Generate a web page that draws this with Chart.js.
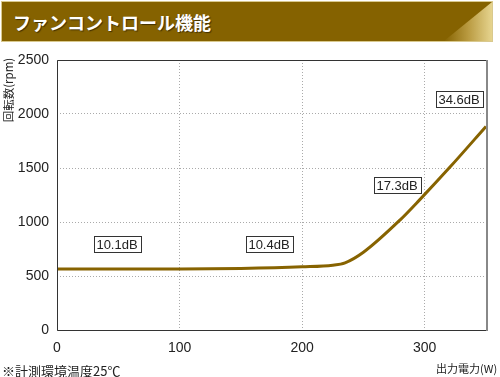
<!DOCTYPE html>
<html><head><meta charset="utf-8">
<script src="https://cdn.jsdelivr.net/npm/chart.js@4/dist/chart.umd.min.js"></script>
<style>
html,body{margin:0;padding:0;background:#fff;}
#wrap{position:relative;width:500px;height:377px;overflow:hidden;}
#hdr{position:absolute;left:1px;top:1px;width:492px;height:41px;background:#856200;border:1px solid #d9c98e;box-sizing:border-box;}
#hdr .tri{position:absolute;right:0;top:0;width:48px;height:100%;background:linear-gradient(to right,#856200 0%,#b99a40 50%,#e6d48f 100%);clip-path:polygon(100% 0,100% 100%,0 100%);}
#hdr .t{position:absolute;left:11px;top:7px;color:#fff;font:bold 18px "Noto Sans CJK JP",sans-serif;letter-spacing:0px;text-shadow:1px 1px 1px rgba(0,0,0,0.5);}
canvas{position:absolute;left:0;top:0;}
.ytitle{position:absolute;left:-27px;top:82px;width:70px;text-align:center;transform:rotate(-90deg);font:11.5px "Noto Sans CJK JP",sans-serif;color:#222;}
.xtitle{position:absolute;left:436px;top:360px;font:11px "Noto Sans CJK JP",sans-serif;color:#222;}
.note{position:absolute;left:2px;top:361px;font:13px "Noto Sans CJK JP",sans-serif;color:#222;}
</style></head>
<body><div id="wrap">
<canvas id="c" width="500" height="377"></canvas>
<div id="hdr"><div class="tri"></div><div class="t">ファンコントロール機能</div></div>
<div class="ytitle">回転数(rpm)</div>
<div class="xtitle">出力電力(W)</div>
<div class="note">※計測環境温度25℃</div>
</div>
<script>
const powerW = [0, 50, 100, 150, 200, 225, 235, 250, 280, 296, 321, 350];
const fanRpm = [565, 565, 565, 570, 585, 600, 622, 720, 1020, 1207, 1513, 1885];
const noiseLabels = ["10.1dB", "10.4dB", "17.3dB", "34.6dB"];
const noiseX = [49, 173, 277, 328];
const noiseY = [798, 800, 1346, 2135];
const xTicks = [0, 100, 200, 300];
const yTicks = [0, 500, 1000, 1500, 2000, 2500];

const FONT = "'Liberation Sans', Arial, sans-serif";

const framePlugin = {
  id: 'frame',
  afterDraw(chart) {
    const ctx = chart.ctx, a = chart.chartArea;
    ctx.save();
    ctx.strokeStyle = '#333'; ctx.lineWidth = 1;
    ctx.beginPath();
    ctx.moveTo(a.right, a.top + 0.5); ctx.lineTo(a.left + 0.5, a.top + 0.5);
    ctx.lineTo(a.left + 0.5, a.bottom + 0.5); ctx.lineTo(a.right, a.bottom + 0.5);
    ctx.stroke();
    ctx.strokeStyle = '#888'; ctx.lineWidth = 2;
    ctx.beginPath(); ctx.moveTo(a.right + 1, a.top); ctx.lineTo(a.right + 1, a.bottom + 1); ctx.stroke();
    const xs = chart.scales.x, ys = chart.scales.y;
    ctx.font = '13px ' + FONT;
    ctx.textAlign = 'center'; ctx.textBaseline = 'middle';
    noiseLabels.forEach((t, i) => {
      const px = Math.round(xs.getPixelForValue(noiseX[i]));
      const py = Math.round(ys.getPixelForValue(noiseY[i]));
      const w = Math.round(ctx.measureText(t).width) + 6, h = 16;
      ctx.fillStyle = '#fff';
      ctx.fillRect(px - w / 2, py - h / 2, w, h);
      ctx.strokeStyle = '#333'; ctx.lineWidth = 1;
      ctx.strokeRect(Math.round(px - w / 2) + 0.5, py - h / 2 + 0.5, w, h);
      ctx.fillStyle = '#222';
      ctx.fillText(t, px, py + 1);
    });
    ctx.restore();
  }
};

new Chart(document.getElementById('c'), {
  type: 'line',
  data: {
    datasets: [{
      data: powerW.map((x, i) => ({ x: x, y: fanRpm[i] })),
      borderColor: '#876300',
      borderWidth: 3,
      pointRadius: 0,
      tension: 0.4,
      cubicInterpolationMode: 'monotone',
      fill: false
    }]
  },
  options: {
    responsive: false,
    animation: false,
    devicePixelRatio: 1,
    layout: { padding: { left: 0, right: 14, top: 60, bottom: 0 } },
    plugins: { legend: { display: false }, tooltip: { enabled: false } },
    scales: {
      x: {
        type: 'linear', min: 0, max: 350,
        afterBuildTicks(s) { s.ticks = xTicks.map(v => ({ value: v })); },
        afterFit(s) { s.height = 47; },
        grid: { color: '#aaa', drawTicks: false, lineWidth: 1 },
        border: { display: false, dash: [1, 2] },
        ticks: { padding: 10, color: '#222', font: { family: FONT, size: 14 }, callback: v => String(v) }
      },
      y: {
        type: 'linear', min: 0, max: 2500,
        afterBuildTicks(s) { s.ticks = yTicks.map(v => ({ value: v })); },
        afterFit(s) { s.width = 57; },
        grid: { color: '#aaa', drawTicks: false, lineWidth: 1 },
        border: { display: false, dash: [1, 2] },
        ticks: { padding: 8, color: '#222', font: { family: FONT, size: 14 }, callback: v => String(v) }
      }
    }
  },
  plugins: [framePlugin]
});
</script>
</body></html>
